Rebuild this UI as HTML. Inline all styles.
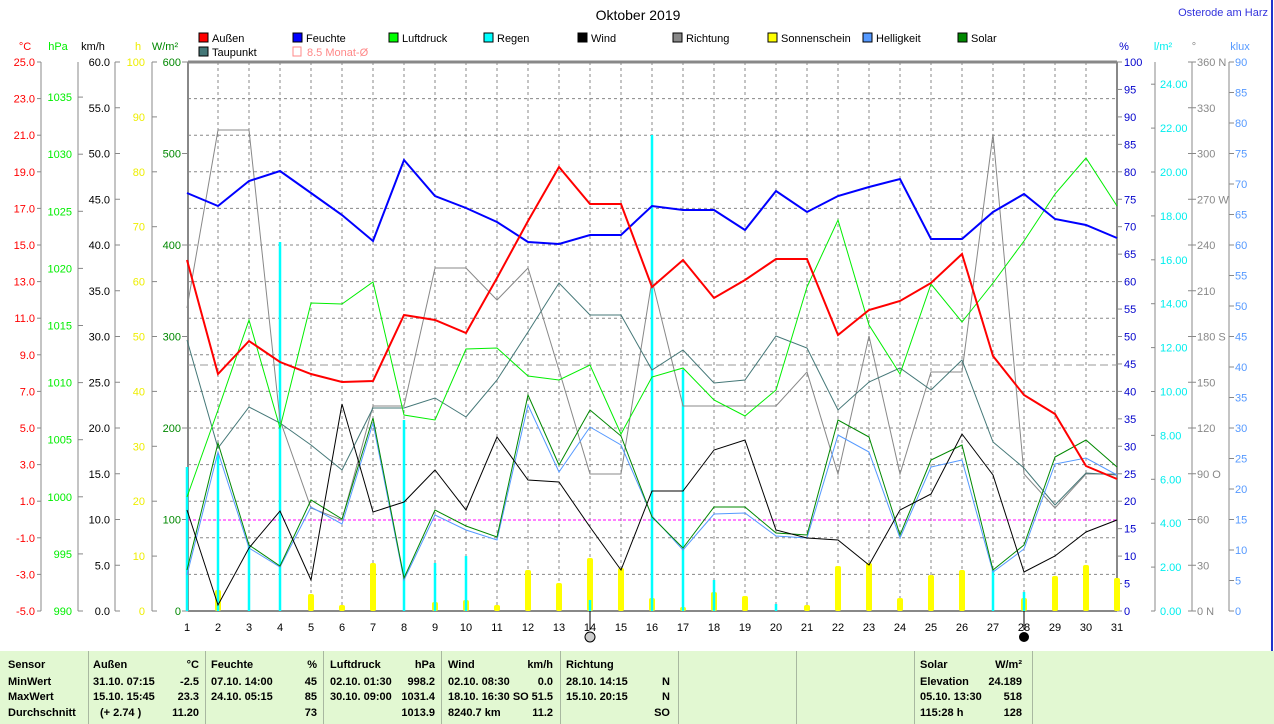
<!DOCTYPE html>
<html><head><meta charset="utf-8"><style>
body{margin:0;background:#fff;width:1274px;height:724px;overflow:hidden;font-family:"Liberation Sans",sans-serif}
svg text{font-family:"Liberation Sans",sans-serif;font-size:11px}
#tbl{position:absolute;left:0;top:651px;width:1274px;height:73px;background:#e2f8d2}
#tbl div{position:absolute;font-size:11px;font-weight:bold;color:#000;white-space:nowrap}
#tbl .s{top:0;width:1px;height:73px;background:#a8b8a0}
</style></head><body>
<svg id="c" width="1274" height="651" style="position:absolute;left:0;top:0"></svg>
<div id="tbl"></div>
<script>
const S=document.getElementById('c');let h='';
const X=i=>187+(i-1)*31;
function T(x,y,t,c,a,extra){h+=`<text x="${x}" y="${y}" fill="${c}" text-anchor="${a||'start'}" ${extra||''}>${t}</text>`;}
function L(x1,y1,x2,y2,c,w,d){h+=`<line x1="${x1}" y1="${y1}" x2="${x2}" y2="${y2}" stroke="${c}" stroke-width="${w||1}" ${d?`stroke-dasharray="${d}"`:''}/>`;}
// grid
for(let k=1;k<15;k++){let y=62+k*36.6;L(188,y,1117,y,'#888',1,'3,3');}
for(let i=2;i<=30;i++)L(X(i),62,X(i),611,'#888',1,'3,3');
L(188,62,1117,62,'#888',3);L(188,62,188,611,'#888',2);L(1117,62,1117,611,'#888',2);L(188,611,1117,611,'#888',2);
// title
T(638,20,'Oktober 2019','#000','middle','style="font-size:14px"');
T(1268,16,'Osterode am Harz','#3333dd','end','style="font-size:11px"');
L(1272,0,1272,651,'#2233cc',2);
// legend
const lg=[[199,'#f00','Außen'],[293,'#00f','Feuchte'],[389,'#0f0','Luftdruck'],[484,'#0ff','Regen'],[578,'#000','Wind'],[673,'#888','Richtung'],[768,'#ff0','Sonnenschein'],[863,'#59f','Helligkeit'],[958,'#080','Solar']];
lg.forEach(l=>{h+=`<rect x="${l[0]}" y="33" width="9" height="9" fill="${l[1]}" stroke="#000"/>`;T(l[0]+13,42,l[2],'#000');});
h+=`<rect x="199" y="47" width="9" height="9" fill="#477" stroke="#000"/>`;T(212,56,'Taupunkt','#000');
h+=`<rect x="293" y="47" width="8" height="9" fill="none" stroke="#f88"/>`;T(307,56,'8.5 Monat-Ø','#f88');
// left axes
const ax=[41,78,115,152];ax.forEach(x=>L(x,62,x,611,'#888'));
T(25,50,'°C','#f00','middle');T(58,50,'hPa','#0e0','middle');T(93,50,'km/h','#000','middle');T(138,50,'h','#ee0','middle');T(165,50,'W/m²','#080','middle');
for(let k=0;k<=15;k++){let y=62+k*36.6;L(37,y,41,y,'#888');T(35,y+4,(25-2*k).toFixed(1),'#f00','end');}
for(let p=990;p<=1035;p+=5){let y=611-(p-990)*11.42;L(78,y,83,y,'#888');T(72,y+4,p,'#0e0','end');}
for(let k=0;k<=12;k++){let y=611-k*45.75;L(115,y,120,y,'#888');T(110,y+4,(5*k).toFixed(1),'#000','end');}
for(let k=0;k<=10;k++){let y=611-k*54.9;L(152,y,157,y,'#888');T(145,y+4,10*k,'#ee0','end');}
for(let k=0;k<=6;k++){let y=611-k*91.5;L(182,y,188,y,'#888');T(181,y+4,100*k,'#080','end');}
// right axes
[1155,1192,1229].forEach(x=>L(x,62,x,611,'#888'));
T(1124,50,'%','#00c','middle');T(1163,50,'l/m²','#0ee','middle');T(1194,50,'°','#888','middle');T(1240,50,'klux','#59f','middle');
for(let k=0;k<=20;k++){let y=611-k*27.45;L(1117,y,1122,y,'#888');T(1124,y+4,5*k,'#00c');}
for(let k=0;k<=12;k++){let y=611-k*43.9;L(1151,y,1155,y,'#888');T(1160,y+4,(2*k).toFixed(2),'#0ee');}
const dn={0:' N',3:' O',6:' S',9:' W',12:' N'};
for(let k=0;k<=12;k++){let y=611-k*45.75;L(1188,y,1196,y,'#888');T(1197,y+4,30*k+(dn[k]||''),'#888');}
for(let k=0;k<=18;k++){let y=611-k*30.5;L(1229,y,1234,y,'#888');T(1235,y+4,5*k,'#59f');}
// x labels
for(let i=1;i<=31;i++)T(X(i),631,i,'#000','middle');
h+=`<circle cx="${X(14)}" cy="637" r="5" fill="#ccc" stroke="#000"/><circle cx="${X(28)}" cy="637" r="5" fill="#000"/>`;
L(X(14),611,X(14),630,'#000');L(X(28),611,X(28),630,'#000');
// reference lines
L(188,365,1117,365,'#999',1,'8,4');L(188,520,1117,520,'#f0f',1,'3,2');
// bars sonnenschein
const sun={2:590,5:594,6:605,7:563,9:602,10:600,11:605,12:570,13:583,14:558,15:568,16:598,17:607,18:592,19:596,21:605,22:566,23:563,24:598,25:575,26:570,28:598,29:576,30:565,31:578};
for(const d in sun)h+=`<rect x="${X(+d)-3}" y="${sun[d]}" width="6" height="${611-sun[d]}" fill="#ff0" rx="2"/>`;
const rain={1:467,2:455,3:545,4:242,8:420,9:563,10:556,14:600,16:135,17:370,18:580,20:604,27:570,28:592};
for(const d in rain)L(X(+d),rain[d],X(+d),611,'#0ff',2.5);
function P(a,c,w){h+=`<polyline fill="none" stroke="${c}" stroke-width="${w}" points="${a.map((y,i)=>X(i+1)+','+y).join(' ')}"/>`;}
P([308,130,130,420,508,520,406,406,268,268,300,268,370,474,474,280,406,406,406,406,372,474,336,474,372,372,134,474,508,474,474],'#888',1);
P([340,448,407,423,445,470,408,408,398,417,380,332,283,315,315,370,350,383,380,336,348,410,382,368,390,360,442,468,505,473,475],'#477',1);
P([575,452,548,567,507,524,423,580,515,530,540,405,472,427,445,516,550,514,513,536,538,435,452,538,467,460,572,549,464,458,475],'#59f',1);
P([570,443,545,566,500,519,418,578,510,526,537,395,465,410,436,517,548,507,507,533,535,420,437,535,460,445,570,545,457,440,467],'#080',1);
P([510,605,548,511,580,404,512,502,470,510,437,480,482,527,570,491,491,450,440,530,538,540,565,510,494,434,475,572,556,532,520],'#000',1);
P([497,410,320,428,303,304,282,415,420,349,348,376,380,365,434,377,368,400,416,390,287,220,325,374,284,322,283,241,194,158,206],'#0e0',1);
P([193,206,181,171,193,215,241,160,196,208,222,242,244,235,235,206,210,210,230,191,212,196,187,179,239,239,212,194,219,225,238],'#00f',2);
P([260,374,341,362,374,382,381,315,320,333,278,221,167,204,204,287,260,298,280,259,259,335,310,301,283,254,356,395,414,466,479],'#f00',2);
S.innerHTML=h;
// table
let t='';
[88,205,323,441,560,678,796,914,1032].forEach(x=>t+=`<div class="s" style="left:${x}px"></div>`);
const rows=[8,25,40,56];
function D(x,r,s,a){t+=`<div style="${a?'right:'+(1274-x)+'px':'left:'+x+'px'};top:${rows[r]}px">${s}</div>`;}
['Sensor','MinWert','MaxWert','Durchschnitt'].forEach((s,r)=>D(8,r,s));
D(93,0,'Außen');D(199,0,'°C',1);D(93,1,'31.10.  07:15');D(199,1,'-2.5',1);D(93,2,'15.10.  15:45');D(199,2,'23.3',1);D(100,3,'(+ 2.74 )');D(199,3,'11.20',1);
D(211,0,'Feuchte');D(317,0,'%',1);D(211,1,'07.10.  14:00');D(317,1,'45',1);D(211,2,'24.10.  05:15');D(317,2,'85',1);D(317,3,'73',1);
D(330,0,'Luftdruck');D(435,0,'hPa',1);D(330,1,'02.10.  01:30');D(435,1,'998.2',1);D(330,2,'30.10.  09:00');D(435,2,'1031.4',1);D(435,3,'1013.9',1);
D(448,0,'Wind');D(553,0,'km/h',1);D(448,1,'02.10.  08:30');D(553,1,'0.0',1);D(448,2,'18.10.  16:30 SO');D(553,2,'51.5',1);D(448,3,'8240.7 km');D(553,3,'11.2',1);
D(566,0,'Richtung');D(566,1,'28.10.  14:15');D(670,1,'N',1);D(566,2,'15.10.  20:15');D(670,2,'N',1);D(670,3,'SO',1);
D(920,0,'Solar');D(1022,0,'W/m²',1);D(920,1,'Elevation');D(1022,1,'24.189',1);D(920,2,'05.10.  13:30');D(1022,2,'518',1);D(920,3,'115:28 h');D(1022,3,'128',1);
document.getElementById('tbl').innerHTML=t;
</script>
</body></html>
